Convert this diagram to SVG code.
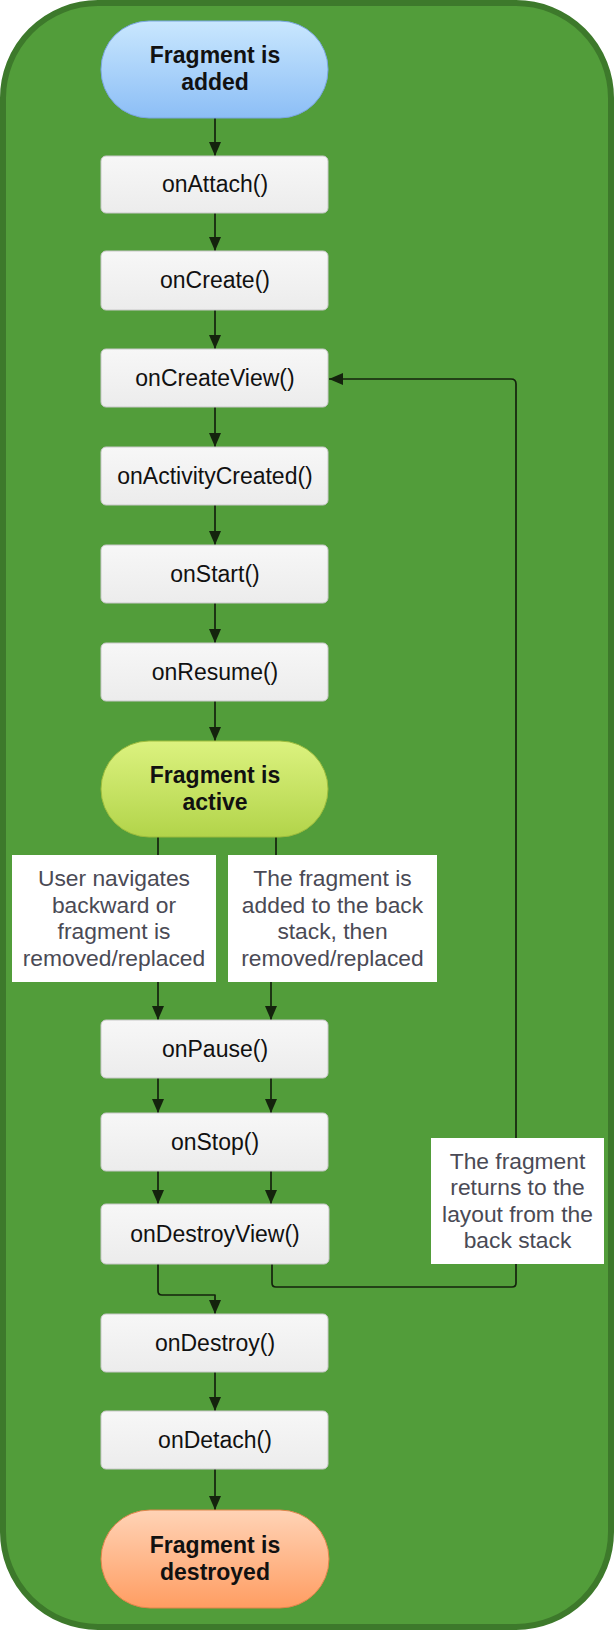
<svg xmlns="http://www.w3.org/2000/svg" width="614" height="1630" viewBox="0 0 614 1630">
<style>
.proc{fill:url(#gProc);stroke:#c8c8c8;stroke-width:1}
.lbl{fill:#ffffff}
.t{font-family:"Liberation Sans",Arial,sans-serif;font-size:23px;fill:#111;text-anchor:middle}
.b{font-weight:bold}
.g{fill:#4a4a55;font-size:22.8px}
.c{fill:none;stroke:#14230d;stroke-width:1.7;stroke-linejoin:round}
</style>
<defs>
<linearGradient id="gProc" x1="0" y1="0" x2="0" y2="1"><stop offset="0" stop-color="#f7f7f7"/><stop offset="1" stop-color="#ececec"/></linearGradient>
<linearGradient id="gBlue" x1="0" y1="0" x2="0" y2="1"><stop offset="0" stop-color="#c9e7fe"/><stop offset="1" stop-color="#8cbef6"/></linearGradient>
<linearGradient id="gGreen" x1="0" y1="0" x2="0" y2="1"><stop offset="0" stop-color="#dcf27f"/><stop offset="1" stop-color="#b2d44a"/></linearGradient>
<linearGradient id="gOrange" x1="0" y1="0" x2="0" y2="1"><stop offset="0" stop-color="#ffd3b6"/><stop offset="1" stop-color="#ff9d62"/></linearGradient>
<marker id="arr" viewBox="0 0 14 12" refX="14" refY="6" markerWidth="14" markerHeight="12" markerUnits="userSpaceOnUse" orient="auto">
<path d="M0,0 L14,6 L0,12 z" fill="#14230d"/>
</marker>
</defs>
<rect x="3" y="3" width="608" height="1624" rx="95" ry="95" fill="#529d3a" stroke="#3d792b" stroke-width="6"/>

<g id="connectors">
<line class="c" x1="215" y1="118" x2="215" y2="156" marker-end="url(#arr)"/>
<line class="c" x1="215" y1="213" x2="215" y2="251" marker-end="url(#arr)"/>
<line class="c" x1="215" y1="310" x2="215" y2="349" marker-end="url(#arr)"/>
<line class="c" x1="215" y1="407" x2="215" y2="447" marker-end="url(#arr)"/>
<line class="c" x1="215" y1="505" x2="215" y2="545" marker-end="url(#arr)"/>
<line class="c" x1="215" y1="603" x2="215" y2="643" marker-end="url(#arr)"/>
<line class="c" x1="215" y1="701" x2="215" y2="741" marker-end="url(#arr)"/>
<line class="c" x1="158" y1="837" x2="158" y2="855"/>
<line class="c" x1="276" y1="837" x2="276" y2="855"/>
<line class="c" x1="158" y1="982" x2="158" y2="1020" marker-end="url(#arr)"/>
<line class="c" x1="271" y1="982" x2="271" y2="1020" marker-end="url(#arr)"/>
<line class="c" x1="158" y1="1078" x2="158" y2="1113" marker-end="url(#arr)"/>
<line class="c" x1="271" y1="1078" x2="271" y2="1113" marker-end="url(#arr)"/>
<line class="c" x1="158" y1="1171" x2="158" y2="1204" marker-end="url(#arr)"/>
<line class="c" x1="271" y1="1171" x2="271" y2="1204" marker-end="url(#arr)"/>
<path class="c" d="M158,1264 V1291 Q158,1295 162,1295 H215 V1314" marker-end="url(#arr)"/>
<path class="c" d="M272,1264 V1283 Q272,1287 276,1287 H512 Q516,1287 516,1283 V1264"/>
<path class="c" d="M516,1138 V384 Q516,379 511,379 H329" marker-end="url(#arr)"/>
<line class="c" x1="215" y1="1372" x2="215" y2="1411" marker-end="url(#arr)"/>
<line class="c" x1="215" y1="1469" x2="215" y2="1510" marker-end="url(#arr)"/>
</g>

<g id="added">
<rect x="101" y="21" width="227" height="97" rx="48" fill="url(#gBlue)" stroke="#79a6e0" stroke-width="1"/>
<text class="t b" x="215" y="63">Fragment is</text>
<text class="t b" x="215" y="90">added</text>
</g>
<g id="onAttach"><rect class="proc" x="101" y="156" width="227" height="57" rx="5"/><text class="t" x="215" y="192">onAttach()</text></g>
<g id="onCreate"><rect class="proc" x="101" y="251" width="227" height="59" rx="5"/><text class="t" x="215" y="288">onCreate()</text></g>
<g id="onCreateView"><rect class="proc" x="101" y="349" width="227" height="58" rx="5"/><text class="t" x="215" y="386">onCreateView()</text></g>
<g id="onActivityCreated"><rect class="proc" x="101" y="447" width="227" height="58" rx="5"/><text class="t" x="215" y="484">onActivityCreated()</text></g>
<g id="onStart"><rect class="proc" x="101" y="545" width="227" height="58" rx="5"/><text class="t" x="215" y="582">onStart()</text></g>
<g id="onResume"><rect class="proc" x="101" y="643" width="227" height="58" rx="5"/><text class="t" x="215" y="680">onResume()</text></g>
<g id="active">
<rect x="101" y="741" width="227" height="96" rx="48" fill="url(#gGreen)" stroke="#9cbc3c" stroke-width="1"/>
<text class="t b" x="215" y="783">Fragment is</text>
<text class="t b" x="215" y="810">active</text>
</g>
<g id="label-back">
<rect class="lbl" x="12" y="855" width="204" height="127"/>
<text class="t g" x="114" y="886">User navigates</text>
<text class="t g" x="114" y="912.5">backward or</text>
<text class="t g" x="114" y="939">fragment is</text>
<text class="t g" x="114" y="966">removed/replaced</text>
</g>
<g id="label-stack">
<rect class="lbl" x="228" y="855" width="209" height="127"/>
<text class="t g" x="332.5" y="886">The fragment is</text>
<text class="t g" x="332.5" y="912.5">added to the back</text>
<text class="t g" x="332.5" y="939">stack, then</text>
<text class="t g" x="332.5" y="966">removed/replaced</text>
</g>
<g id="onPause"><rect class="proc" x="101" y="1020" width="227" height="58" rx="5"/><text class="t" x="215" y="1057">onPause()</text></g>
<g id="onStop"><rect class="proc" x="101" y="1113" width="227" height="58" rx="5"/><text class="t" x="215" y="1150">onStop()</text></g>
<g id="onDestroyView"><rect class="proc" x="101" y="1204" width="228" height="60" rx="5"/><text class="t" x="215" y="1242">onDestroyView()</text></g>
<g id="label-return">
<rect class="lbl" x="431" y="1138" width="173" height="126"/>
<text class="t g" x="517.5" y="1168.5">The fragment</text>
<text class="t g" x="517.5" y="1195">returns to the</text>
<text class="t g" x="517.5" y="1221.5">layout from the</text>
<text class="t g" x="517.5" y="1248">back stack</text>
</g>
<g id="onDestroy"><rect class="proc" x="101" y="1314" width="227" height="58" rx="5"/><text class="t" x="215" y="1351">onDestroy()</text></g>
<g id="onDetach"><rect class="proc" x="101" y="1411" width="227" height="58" rx="5"/><text class="t" x="215" y="1448">onDetach()</text></g>
<g id="destroyed">
<rect x="101" y="1510" width="228" height="98" rx="49" fill="url(#gOrange)" stroke="#e0854a" stroke-width="1"/>
<text class="t b" x="215" y="1553">Fragment is</text>
<text class="t b" x="215" y="1580">destroyed</text>
</g>
</svg>
